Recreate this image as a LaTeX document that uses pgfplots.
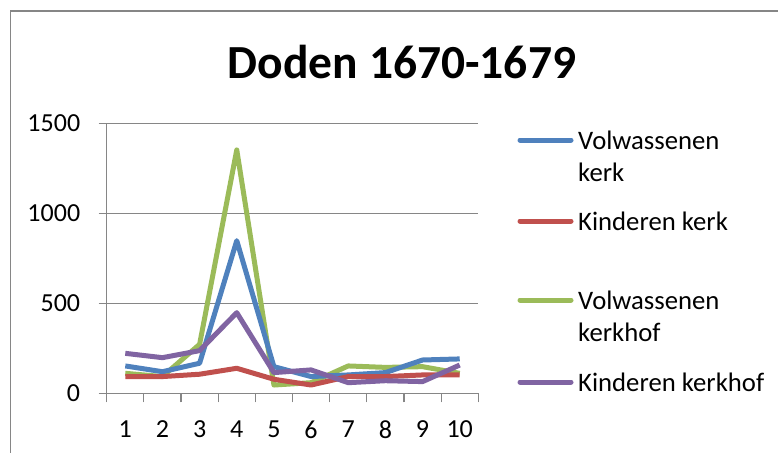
\documentclass[border=0pt]{standalone}
\usepackage{fontspec}
\setmainfont{Carlito}
\usepackage{pgfplots}
\pgfplotsset{compat=1.18}
\definecolor{sA}{HTML}{4F81BD}
\definecolor{sB}{HTML}{C0504D}
\definecolor{sC}{HTML}{9BBB59}
\definecolor{sD}{HTML}{8064A2}
\definecolor{gridc}{HTML}{868686}
\begin{document}
\begin{tikzpicture}[x=1pt,y=1pt]
\useasboundingbox (0,0) rectangle (778pt,-452pt);
\begin{scope}
\clip (0,0) rectangle (778pt,-452pt);
\draw[line width=1.5pt, color=gridc] (10.5pt,-11pt) rectangle (820pt,-500pt);
\end{scope}
\node[font=\fontsize{47.5}{52}\selectfont\bfseries] at (402pt,-62pt) {Doden 1670-1679};
\begin{axis}[
  at={(106.7pt,-393.3pt)}, anchor=south west,
  scale only axis, width=371.6pt, height=270pt,
  xmin=0.5, xmax=10.5, ymin=0, ymax=1500,
  xtick={1,...,10}, minor xtick={0.5,1.5,...,10.5},
  ytick={0,500,1000,1500},
  axis lines*=left,
  axis line style={-, draw=gridc, line width=1.2pt},
  ymajorgrids, grid style={draw=gridc, line width=1.2pt},
  tick align=outside, major tick length=8pt, minor tick length=9pt,
  every tick/.style={draw=gridc, line width=1.2pt},
  major x tick style={draw=none},
  tick label style={font=\fontsize{26}{30}\selectfont},
  yticklabel style={xshift=-15pt},
  xticklabel style={yshift=-16pt},
  /pgf/number format/assume math mode=true,
  /pgf/number format/1000 sep={},
  clip=false,
]
\addplot[sC, line width=5pt, line join=round] coordinates {(1,111)(2,93)(3,272)(4,1352)(5,46)(6,59)(7,152)(8,144)(9,148)(10,111)};
\addplot[sA, line width=5pt, line join=round] coordinates {(1,152)(2,120)(3,167)(4,848)(5,148)(6,93)(7,102)(8,115)(9,185)(10,191)};
\addplot[sB, line width=5pt, line join=round] coordinates {(1,93)(2,93)(3,106)(4,139)(5,78)(6,46)(7,93)(8,93)(9,102)(10,102)};
\addplot[sD, line width=5pt, line join=round] coordinates {(1,222)(2,198)(3,237)(4,448)(5,115)(6,130)(7,59)(8,70)(9,65)(10,157)};
\end{axis}
\begin{scope}[font=\fontsize{26.7}{30}\selectfont, every node/.style={anchor=west, inner sep=0pt}]
\draw[sA, line width=5pt, line cap=round] (520pt,-140pt) -- (571pt,-140pt);
\node at (578pt,-140pt) {Volwassenen};
\node at (578pt,-172pt) {kerk};
\draw[sB, line width=5pt, line cap=round] (520pt,-221pt) -- (571pt,-221pt);
\node at (578pt,-221pt) {Kinderen kerk};
\draw[sC, line width=5pt, line cap=round] (520pt,-300pt) -- (571pt,-300pt);
\node at (578pt,-300pt) {Volwassenen};
\node at (578pt,-332pt) {kerkhof};
\draw[sD, line width=5pt, line cap=round] (520pt,-382pt) -- (571pt,-382pt);
\node at (578pt,-382pt) {Kinderen kerkhof};
\end{scope}
\end{tikzpicture}
\end{document}
